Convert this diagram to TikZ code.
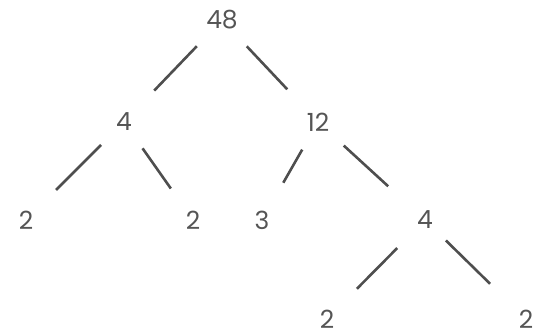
\documentclass[tikz,border=0pt]{standalone}
\usepackage{fontspec}
\setmainfont{Poppins}
\usepackage{xcolor}
\usepackage{tikz}
\definecolor{numgray}{RGB}{85,85,85}
\definecolor{branchgray}{RGB}{78,78,78}

\begin{document}
\begin{tikzpicture}[x=1pt, y=1pt,
    every node/.style={font=\fontsize{25}{28}\selectfont, text=numgray, inner sep=0pt},
    branch/.style={draw=branchgray, line width=2.6pt, shorten <=21pt, shorten >=32pt}]
  \useasboundingbox (0,0) rectangle (535,336);
  \node (top) at (222,316) {48};
  \node (leftfour) at (124,214) {4};
  \node (twelve) at (318,214) {12};
  \node (twoa) at (26,116) {2};
  \node (twob) at (193,116) {2};
  \node (three) at (262,116) {3};
  \node (rightfour) at (425,116) {4};
  \node (twoc) at (327,17) {2};
  \node (twod) at (526,17) {2};
  \draw[branch, shorten <=23pt] (top) -- (leftfour);
  \draw[branch, shorten <=23pt] (top) -- (twelve);
  \draw[branch] (leftfour) -- (twoa);
  \draw[branch, shorten >=27pt] (leftfour) -- (twob);
  \draw[branch] (twelve) -- (three);
  \draw[branch, shorten >=39pt] (twelve) -- (rightfour);
  \draw[branch, shorten <=28pt] (rightfour) -- (twoc);
  \draw[branch, shorten <=18pt, shorten >=40pt] (rightfour) -- (twod);
\end{tikzpicture}
\end{document}
